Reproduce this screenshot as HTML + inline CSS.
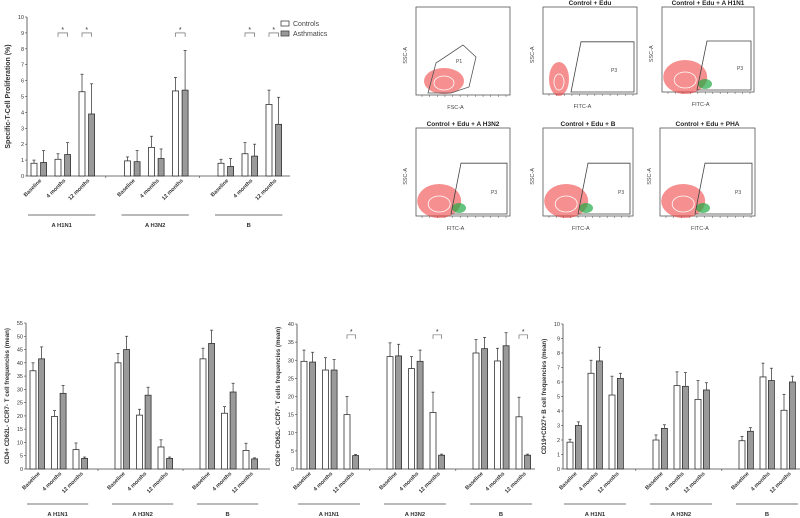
<!DOCTYPE html>
<html><head><meta charset="utf-8"><style>
html,body{margin:0;padding:0;background:#fff;}
svg{display:block;font-family:"Liberation Sans",sans-serif;}
</style></head><body>
<svg id="fig" width="800" height="518" viewBox="0 0 800 518" xmlns="http://www.w3.org/2000/svg">
<rect width="800" height="518" fill="#fff"/>
<g id="flow"></g>
<g id="c1"></g>
<g id="c2"></g>
<g id="c3"></g>
<g id="c4"></g>
<g>
<rect x="281" y="21" width="8" height="5" fill="#fff" stroke="#444" stroke-width="0.8"/>
<text x="293" y="26" font-size="7" fill="#444">Controls</text>
<rect x="281" y="31" width="8" height="5" fill="#999" stroke="#444" stroke-width="0.8"/>
<text x="293" y="36" font-size="7" fill="#444">Asthmatics</text>
</g>
</svg>
<script>
const groups = ["A H1N1","A H3N2","B"];
const timepoints = ["Baseline","4 months","12 months"];
// Chart 1: specific T-cell proliferation
const p_ctrl = [0.8,1.05,5.3, 0.95,1.8,5.35, 0.8,1.4,4.5];
const p_ctrlErr = [1.0,1.4,6.4, 1.2,2.5,6.2, 1.05,2.1,5.4];
const p_asth = [0.85,1.35,3.9, 0.9,1.1,5.4, 0.6,1.25,3.25];
const p_asthErr = [1.6,2.1,5.8, 1.6,1.7,7.9, 1.1,2.0,4.95];
const p_stars = [1,2,5,7,8];
const p_ticks = [0,1,2,3,4,5,6,7,8,9,10];
// Chart 2: CD4
const c4_ctrl = [37,19.8,7.3, 40,20.3,8.3, 41.5,21,7];
const c4_ctrlErr = [40,22,9.8, 43.5,22.5,11, 45.5,23.5,9.7];
const c4_asth = [41.5,28.5,4, 45,27.8,4, 47.3,29,3.8];
const c4_asthErr = [46,31.5,4.5, 50,30.8,4.5, 52.3,32.3,4.2];
const c4_ticks = [0,5,10,15,20,25,30,35,40,45,50,55];
// Chart 3: CD8
const c8_ctrl = [29.7,27.3,15, 31,27.7,15.6, 32,29.8,14.4];
const c8_ctrlErr = [32.8,30.7,20, 34.8,31,21.2, 35.7,33.3,19.8];
const c8_asth = [29.5,27.3,3.7, 31.2,29.7,3.8, 33.2,34,3.8];
const c8_asthErr = [32.2,30.2,4, 34.4,32.8,4.1, 36.3,37.6,4.1];
const c8_stars = [2,5,8];
const c8_ticks = [0,5,10,15,20,25,30,35,40];
// Chart 4: CD19
const b_ctrl = [1.85,6.6,5.1, 2,5.75,4.8, 1.95,6.35,4.05];
const b_ctrlErr = [2.05,7.5,6.4, 2.35,6.7,6.1, 2.25,7.3,5.15];
const b_asth = [3,7.45,6.25, 2.8,5.7,5.45, 2.6,6.1,6];
const b_asthErr = [3.25,8.4,6.6, 3.05,6.65,5.95, 2.85,6.95,6.4];
const b_ticks = [0,1,2,3,4,5,6,7,8,9,10];

const NS="http://www.w3.org/2000/svg";
function el(parent,tag,attrs,txt){const e=document.createElementNS(NS,tag);for(const k in attrs)e.setAttribute(k,attrs[k]);if(txt!==undefined)e.textContent=txt;parent.appendChild(e);return e;}

function drawChart(cfg){
  const g=document.getElementById(cfg.id);
  const y=v=>cfg.y0-(v/cfg.max)*(cfg.y0-cfg.yTop);
  const xs=i=>cfg.x0+Math.floor(i/3)*cfg.gs+(i%3)*cfg.ps;
  // axis
  const ax=el(g,'line',{x1:cfg.ax,y1:cfg.yTop,x2:cfg.ax,y2:cfg.y0,stroke:'#444','stroke-width':0.8});
  
  
  const xa=el(g,'line',{x1:cfg.ax,y1:cfg.y0,x2:cfg.xEnd,y2:cfg.y0,stroke:'#444','stroke-width':0.8});
  
  
  cfg.ticks.forEach(t=>{
    el(g,'line',{x1:cfg.ax-2,y1:y(t),x2:cfg.ax,y2:y(t),stroke:'#444','stroke-width':0.6});
    const tl=el(g,'text',{x:cfg.ax-3,y:y(t)+2,'font-size':5.5,'text-anchor':'end',fill:'#333'},String(t));
    
    
  });
  for(let k=1;k<3;k++){const sx=cfg.x0+k*cfg.gs-cfg.gs*0.2;el(g,'line',{x1:sx,y1:cfg.y0,x2:sx,y2:cfg.y0+2,stroke:'#444','stroke-width':0.6});}
  const yt=el(g,'text',{transform:`translate(${cfg.ax-17},${(cfg.y0+cfg.yTop)/2}) rotate(-90)`,'font-size':cfg.tfs||6.2,'font-weight':'bold','text-anchor':'middle',fill:'#333'},cfg.title);
  
  
  const bw=6,off=cfg.ps*0.4;
  for(let i=0;i<9;i++){
    const x=xs(i);
    [[cfg.ctrl,cfg.ctrlErr,'#fff',0],[cfg.asth,cfg.asthErr,'#9a9a9a',1]].forEach(s=>{
      const bx=x+s[3]*off;
      el(g,'line',{x1:bx+bw/2,y1:y(s[0][i]),x2:bx+bw/2,y2:y(s[1][i]),stroke:'#444','stroke-width':0.8});
      el(g,'line',{x1:bx+bw/2-1.5,y1:y(s[1][i]),x2:bx+bw/2+1.5,y2:y(s[1][i]),stroke:'#444','stroke-width':0.8});
      const r=el(g,'rect',{x:bx,y:y(s[0][i]),width:bw,height:cfg.y0-y(s[0][i]),fill:s[2],stroke:'#333','stroke-width':0.8});
      
      
    });
    const lx=x+off/2+bw/2+3, ly=cfg.y0+5;
    const lab=el(g,'text',{transform:`translate(${lx},${ly}) rotate(-45)`,'font-size':5.5,'font-weight':'bold','text-anchor':'end',fill:'#333'},timepoints[i%3]);
    
    
  }
  (cfg.stars||[]).forEach(i=>{
    const x=xs(i),yb=y(cfg.starV);
    el(g,'path',{d:`M${x+bw/2},${yb+4}V${yb}H${x+off+bw/2}V${yb+4}`,fill:'none',stroke:'#555','stroke-width':0.6});
    const st=el(g,'text',{x:x+(off+bw)/2,y:yb-1,'font-size':7,'text-anchor':'middle',fill:'#333'},'*');
    
    
  });
  for(let k=0;k<3;k++){
    const gx=cfg.x0+k*cfg.gs-3, gw=cfg.gs*0.72;
    el(g,'line',{x1:gx,y1:cfg.gy,x2:gx+gw,y2:cfg.gy,stroke:'#444','stroke-width':0.8});
    const gl=el(g,'text',{x:gx+gw/2,y:cfg.gy+12,'font-size':5.8,'font-weight':'bold','text-anchor':'middle',fill:'#333'},groups[k]);
    
    
  }
}
drawChart({id:'c1',ax:27,xEnd:290,yTop:17,y0:176,max:10,x0:31,gs:93.5,ps:24,ctrl:p_ctrl,ctrlErr:p_ctrlErr,asth:p_asth,asthErr:p_asthErr,ticks:p_ticks,title:'Specific-T-Cell  Proliferation (%)',stars:p_stars,starV:9,gy:215,tfs:7});
drawChart({id:'c2',ax:26,xEnd:270,yTop:323,y0:469,max:55,x0:30,gs:85,ps:21.5,ctrl:c4_ctrl,ctrlErr:c4_ctrlErr,asth:c4_asth,asthErr:c4_asthErr,ticks:c4_ticks,title:'CD4+ CD62L- CCR7- T cell frequencies (mean)',gy:504});
drawChart({id:'c3',ax:297,xEnd:535,yTop:324,y0:469,max:40,x0:301,gs:86,ps:21.5,ctrl:c8_ctrl,ctrlErr:c8_ctrlErr,asth:c8_asth,asthErr:c8_asthErr,ticks:c8_ticks,title:'CD8+ CD62L- CCR7- T cells frequencies (mean)',stars:c8_stars,starV:37,gy:504});
drawChart({id:'c4',ax:563,xEnd:800,yTop:324,y0:469,max:10,x0:567,gs:86,ps:21,ctrl:b_ctrl,ctrlErr:b_ctrlErr,asth:b_asth,asthErr:b_asthErr,ticks:b_ticks,title:'CD19+CD27+ B cell frequencies (mean)',gy:504});

// Flow panels
const panels=[
 {x:416,y:7,w:94,h:88,t:'',xl:'FSC-A',first:true},
 {x:543,y:7,w:94,h:87,t:'Control + Edu',xl:'FITC-A',green:0},
 {x:662,y:7,w:92,h:85,t:'Control + Edu + A H1N1',xl:'FITC-A',green:1},
 {x:416,y:128,w:94,h:88,t:'Control + Edu + A H3N2',xl:'FITC-A',green:1},
 {x:543,y:128,w:90,h:88,t:'Control + Edu + B',xl:'FITC-A',green:1},
 {x:660,y:128,w:95,h:88,t:'Control + Edu + PHA',xl:'FITC-A',green:1}];
const fg=document.getElementById('flow');
panels.forEach((p,pi)=>{
  const g=el(fg,'g',{});
  
  
  el(g,'rect',{x:p.x,y:p.y,width:p.w,height:p.h,fill:'#fff',stroke:'#555','stroke-width':0.8});
  if(p.t){const t=el(g,'text',{x:p.x+p.w/2,y:p.y-2,'font-size':6.5,'font-weight':'bold','text-anchor':'middle',fill:'#222'},p.t);
    
    }
  const sl=el(g,'text',{transform:`translate(${p.x-9},${p.y+p.h*0.55}) rotate(-90)`,'font-size':5.5,'text-anchor':'middle',fill:'#444'},'SSC-A');
  
  
  const xl=el(g,'text',{x:p.x+p.w*0.42,y:p.y+p.h+14,'font-size':5.5,'text-anchor':'middle',fill:'#444'},p.xl);
  
  
  for(let k=0;k<12;k++)el(g,'line',{x1:p.x+6+k*(p.w-10)/11,y1:p.y+p.h,x2:p.x+6+k*(p.w-10)/11,y2:p.y+p.h+2,stroke:'#555','stroke-width':0.5});
  const by=p.y+p.h;
  if(p.first){
    el(g,'ellipse',{cx:p.x+28,cy:by-14,rx:20,ry:13,fill:'#e33','fill-opacity':0.55});
    el(g,'ellipse',{cx:p.x+28,cy:by-12,rx:10,ry:7,fill:'none',stroke:'#fff','stroke-width':0.8});
    el(g,'path',{d:`M${p.x+12},${by-2}L${p.x+20},${by-32}L${p.x+47},${by-50}L${p.x+60},${by-38}L${p.x+53},${by-8}L${p.x+35},${by-2}Z`,fill:'none',stroke:'#555','stroke-width':0.8});
    el(g,'text',{x:p.x+40,y:by-32,'font-size':5,fill:'#444'},'P1');
  } else {
    const w=pi===1?10:22;
    el(g,'ellipse',{cx:p.x+10+w*0.6,cy:by-15,rx:w,ry:17,fill:'#e33','fill-opacity':0.55});
    el(g,'ellipse',{cx:p.x+10+w*0.6,cy:by-12,rx:w*0.5,ry:8,fill:'none',stroke:'#fff','stroke-width':0.8});
    const gx=p.x+(pi===1?28:35);
    if(p.green)el(g,'ellipse',{cx:gx+8,cy:by-8,rx:7,ry:5,fill:'#2a4','fill-opacity':0.7});
    el(g,'path',{d:`M${gx},${by-2}L${gx+10},${by-p.h*0.6}H${p.x+p.w-3}V${by-2}Z`,fill:'none',stroke:'#444','stroke-width':0.8});
    el(g,'text',{x:gx+40,y:by-22,'font-size':5,fill:'#444'},'P3');
  }
});
</script>
</body></html>
